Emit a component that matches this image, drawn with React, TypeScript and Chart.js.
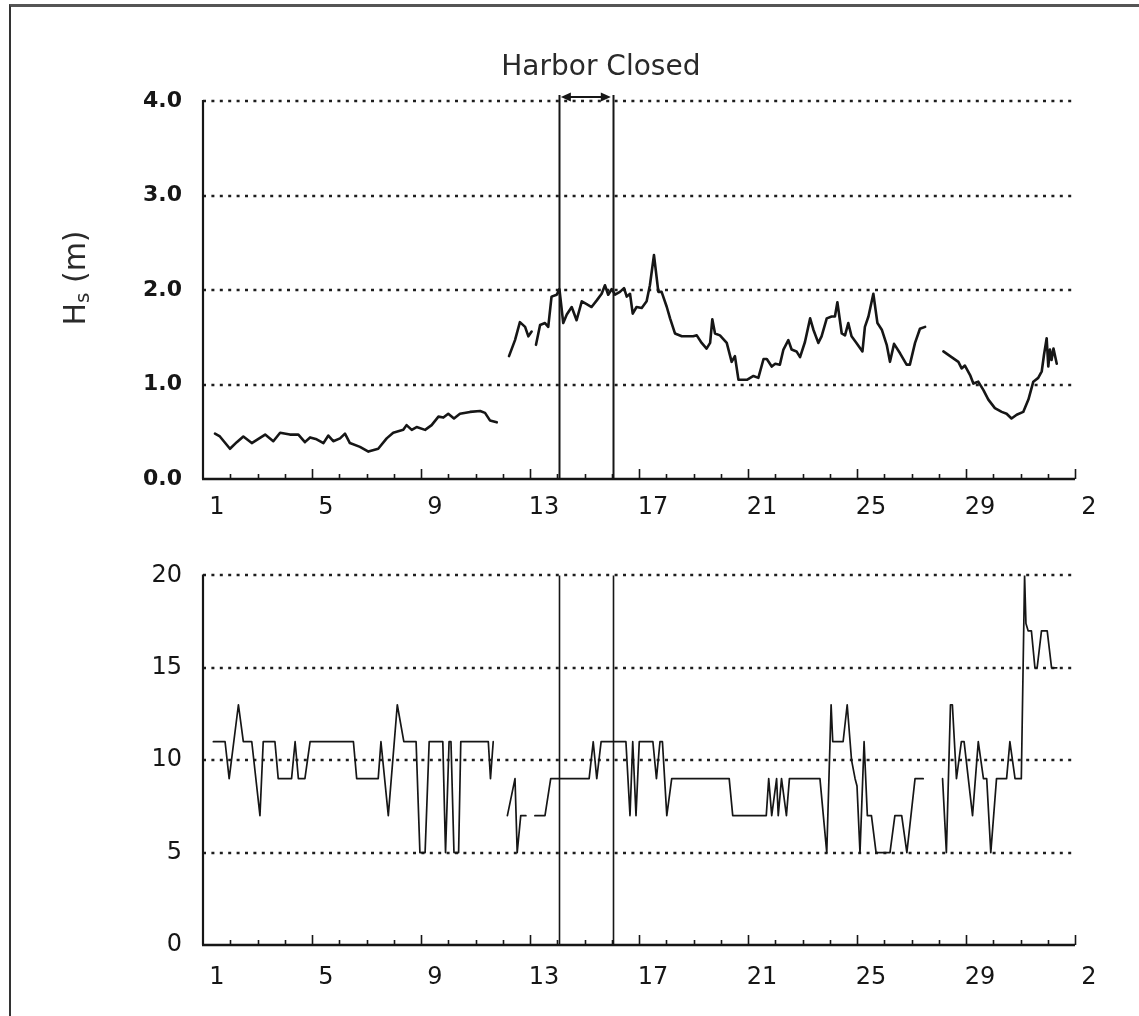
import { useEffect, useRef } from 'react';
import { Chart, registerables } from 'chart.js';

Chart.register(...registerables);

// x is "days since 00:00 of the 1st"; labels sit in the middle of each day
const xTickDays = [0, 4, 8, 12, 16, 20, 24, 28, 32];
const xTickLabels = ['1', '5', '9', '13', '17', '21', '25', '29', '2'];
const hsTicks = [0, 1, 2, 3, 4];
const tpTicks = [0, 5, 10, 15, 20];
const harborClosed = [13.06, 15.04];
const harborLabel = 'Harbor Closed';

const hsDays = [
  0.44, 0.62, 0.99, 1.24, 1.48, 1.79, 2.28, 2.58, 2.83, 3.19, 3.5, 3.74, 3.93, 4.17, 4.42, 4.6, 4.78, 5.03, 5.21, 5.39,
  5.76, 6.07, 6.43, 6.74, 6.98, 7.35, 7.47, 7.66, 7.84, 8.15, 8.39, 8.64, 8.82, 9.0, 9.21, 9.43, 9.8, 10.17, 10.35, 10.53, 10.78,
  11.0,
  11.23, 11.45, 11.63, 11.82, 11.94, 12.06,
  12.14,
  12.22, 12.37, 12.55, 12.67, 12.79, 12.98, 13.08, 13.22, 13.35, 13.53, 13.71, 13.9, 14.08, 14.26, 14.45, 14.63, 14.75, 14.87,
  15.0, 15.12, 15.3, 15.45, 15.55, 15.67, 15.77, 15.91, 16.1, 16.28, 16.4, 16.55, 16.71, 16.83, 17.02, 17.14, 17.32, 17.57,
  17.99, 18.12, 18.3, 18.48, 18.61, 18.69, 18.79, 18.97, 19.22, 19.4, 19.52, 19.65, 19.96, 20.2, 20.38, 20.57, 20.69, 20.87,
  21.0, 21.17, 21.3, 21.48, 21.6, 21.78, 21.91, 22.09, 22.28, 22.4, 22.58, 22.7, 22.89, 23.07, 23.19, 23.28, 23.44, 23.56,
  23.68, 23.8, 23.98, 24.2, 24.29, 24.42, 24.6, 24.75, 24.91, 25.09, 25.21, 25.36, 25.58, 25.82, 25.94, 26.13, 26.31, 26.5,
  26.8,
  27.17, 27.47, 27.72, 27.84, 27.96, 28.15, 28.27, 28.45, 28.64, 28.82, 29.06, 29.31, 29.49, 29.67, 29.86, 30.1, 30.29, 30.47,
  30.65, 30.78, 30.86, 30.96, 31.02, 31.08, 31.14, 31.21, 31.33,
];
const hsValues = [
  0.48, 0.45, 0.32, 0.39, 0.45, 0.38, 0.47, 0.4, 0.49, 0.47, 0.47, 0.39, 0.44, 0.42, 0.38, 0.46, 0.4, 0.43, 0.48, 0.38,
  0.34, 0.29, 0.32, 0.43, 0.49, 0.52, 0.57, 0.52, 0.55, 0.52, 0.57, 0.66, 0.65, 0.69, 0.64, 0.69, 0.71, 0.72, 0.7, 0.62, 0.6,
  null,
  1.3, 1.47, 1.66, 1.61, 1.51, 1.56,
  null,
  1.42, 1.63, 1.65, 1.61, 1.93, 1.95, 2.01, 1.65, 1.74, 1.82, 1.68, 1.88, 1.85, 1.82, 1.89, 1.96, 2.05, 1.95,
  2.01, 1.95, 1.98, 2.02, 1.93, 1.96, 1.75, 1.82, 1.81, 1.88, 2.05, 2.37, 1.98, 1.98, 1.82, 1.7, 1.54, 1.51,
  1.51, 1.52, 1.44, 1.38, 1.44, 1.69, 1.54, 1.52, 1.44, 1.24, 1.3, 1.05, 1.05, 1.09, 1.07, 1.27, 1.27, 1.19,
  1.22, 1.21, 1.37, 1.47, 1.37, 1.35, 1.29, 1.45, 1.7, 1.58, 1.44, 1.51, 1.7, 1.72, 1.72, 1.87, 1.54, 1.52,
  1.65, 1.51, 1.44, 1.35, 1.61, 1.72, 1.96, 1.65, 1.58, 1.42, 1.24, 1.43, 1.33, 1.21, 1.21, 1.44, 1.59, 1.61,
  null,
  1.35, 1.29, 1.24, 1.17, 1.2, 1.1, 1.01, 1.03, 0.94, 0.84, 0.75, 0.71, 0.69, 0.64, 0.68, 0.71, 0.84, 1.03,
  1.07, 1.14, 1.31, 1.49, 1.19, 1.37, 1.26, 1.38, 1.22,
];

const tpDays = [
  0.38, 0.81, 0.96, 1.3, 1.48, 1.79, 2.09, 2.21, 2.64, 2.76, 3.25, 3.38, 3.5, 3.74, 3.93, 5.52, 5.64, 6.43, 6.53, 6.8,
  7.13, 7.37, 7.82, 7.96, 8.15, 8.3, 8.8, 8.9, 9.03, 9.1, 9.21, 9.38, 9.46, 10.47, 10.55, 10.65,
  10.9,
  11.17, 11.45, 11.53, 11.66, 11.85,
  12.0,
  12.18, 12.55, 12.76, 14.17, 14.32, 14.45, 14.61, 15.52, 15.67, 15.77, 15.89, 16.01, 16.51, 16.64, 16.77, 16.86, 17.02,
  17.2, 19.31, 19.44, 20.67, 20.76, 20.87, 21.05, 21.11, 21.23, 21.41, 21.52, 22.64, 22.89, 23.05, 23.11, 23.49, 23.64,
  23.8, 23.93, 24.0, 24.11, 24.26, 24.38, 24.53, 24.7, 25.21, 25.39, 25.64, 25.83, 26.13, 26.43,
  26.8,
  27.14, 27.28, 27.43, 27.5, 27.65, 27.83, 27.93, 28.24, 28.45, 28.64, 28.76, 28.91, 29.12, 29.49, 29.61, 29.8, 30.03,
  30.15, 30.2, 30.28, 30.4, 30.53, 30.61, 30.77, 30.98, 31.14, 31.33,
];
const tpValues = [
  11, 11, 9, 13, 11, 11, 7, 11, 11, 9, 9, 11, 9, 9, 11, 11, 9, 9, 11, 7,
  13, 11, 11, 5, 5, 11, 11, 5, 11, 11, 5, 5, 11, 11, 9, 11,
  null,
  7, 9, 5, 7, 7,
  null,
  7, 7, 9, 9, 11, 9, 11, 11, 7, 11, 7, 11, 11, 9, 11, 11, 7,
  9, 9, 7, 7, 9, 7, 9, 7, 9, 7, 9, 9, 5, 13, 11, 11, 13,
  10, 9, 8.6, 5, 11, 7, 7, 5, 5, 7, 7, 5, 9, 9,
  null,
  9, 5, 13, 13, 9, 11, 11, 7, 11, 9, 9, 5, 9, 9, 11, 9, 9,
  20, 17.4, 17, 17, 15, 15, 17, 17, 15, 15,
];

const FONT = '"DejaVu Sans", "Liberation Sans", sans-serif';
const INK = '#161616';

type PanelOpts = {
  id: string;
  gridValues: number[];
  lineTopExtra: number;
  title: [string, string, string];
  titleCenterY: number;
  header: boolean;
};

function panelPlugin(o: PanelOpts) {
  return {
    id: o.id,
    beforeDatasetsDraw(chart: any) {
      const { ctx, chartArea: a, scales } = chart;
      const x = scales.x;
      const y = scales.y;
      ctx.save();
      // dotted grid lines
      ctx.strokeStyle = '#1e1e1e';
      ctx.lineWidth = 2.4;
      ctx.setLineDash([3, 5.4]);
      for (const v of o.gridValues) {
        if (v === o.gridValues[0]) continue;
        const py = Math.round(y.getPixelForValue(v));
        ctx.beginPath();
        ctx.moveTo(a.left, py);
        ctx.lineTo(a.right - 3, py);
        ctx.stroke();
      }
      ctx.setLineDash([]);
      // harbor closed lines
      ctx.strokeStyle = INK;
      ctx.lineWidth = o.header ? 2 : 1.6;
      for (const d of harborClosed) {
        const px = Math.round(x.getPixelForValue(d)) + 0.5;
        ctx.beginPath();
        ctx.moveTo(px, a.top - o.lineTopExtra);
        ctx.lineTo(px, a.bottom);
        ctx.stroke();
      }
      if (o.header) {
        const x1 = x.getPixelForValue(harborClosed[0]) + 2;
        const x2 = x.getPixelForValue(harborClosed[1]) - 2;
        const ay = a.top - 4;
        ctx.lineWidth = 1.8;
        ctx.beginPath();
        ctx.moveTo(x1 + 4, ay);
        ctx.lineTo(x2 - 4, ay);
        ctx.stroke();
        ctx.fillStyle = INK;
        ctx.beginPath();
        ctx.moveTo(x1, ay);
        ctx.lineTo(x1 + 10, ay - 4.5);
        ctx.lineTo(x1 + 10, ay + 4.5);
        ctx.closePath();
        ctx.fill();
        ctx.beginPath();
        ctx.moveTo(x2, ay);
        ctx.lineTo(x2 - 10, ay - 4.5);
        ctx.lineTo(x2 - 10, ay + 4.5);
        ctx.closePath();
        ctx.fill();
        ctx.font = `28px ${FONT}`;
        ctx.fillStyle = '#2a2a2a';
        ctx.textAlign = 'center';
        ctx.textBaseline = 'alphabetic';
        ctx.fillText(harborLabel, (x1 + x2) / 2 + 15, a.top - 26);
      }
      ctx.restore();
    },
    afterDraw(chart: any) {
      const { ctx, chartArea: a, scales } = chart;
      const x = scales.x;
      ctx.save();
      ctx.strokeStyle = INK;
      // axes
      ctx.lineWidth = 2.2;
      ctx.beginPath();
      ctx.moveTo(a.left, a.top - 1);
      ctx.lineTo(a.left, a.bottom);
      ctx.stroke();
      ctx.lineWidth = 2.6;
      ctx.beginPath();
      ctx.moveTo(a.left - 1, a.bottom);
      ctx.lineTo(a.right, a.bottom);
      ctx.stroke();
      // inward tick marks, one per day
      ctx.lineWidth = 1.6;
      for (let d = 1; d <= 32; d++) {
        const px = Math.round(x.getPixelForValue(d)) + 0.5;
        const len = d % 4 === 0 ? 10 : 5;
        ctx.beginPath();
        ctx.moveTo(px, a.bottom);
        ctx.lineTo(px, a.bottom - len);
        ctx.stroke();
      }
      // rotated axis title with subscript
      const [main, sub, rest] = o.title;
      const big = `30px ${FONT}`;
      const small = `20px ${FONT}`;
      ctx.font = big;
      const w1 = ctx.measureText(main).width;
      const w3 = ctx.measureText(rest).width;
      ctx.font = small;
      const w2 = ctx.measureText(sub).width;
      const total = w1 + w2 + w3;
      ctx.translate(77, o.titleCenterY);
      ctx.rotate(-Math.PI / 2);
      ctx.fillStyle = '#2a2a2a';
      ctx.textAlign = 'left';
      ctx.textBaseline = 'middle';
      let cx = -total / 2;
      ctx.font = big;
      ctx.fillText(main, cx, 0);
      cx += w1;
      ctx.font = small;
      ctx.fillText(sub, cx, 7);
      cx += w2;
      ctx.font = big;
      ctx.fillText(rest, cx, 0);
      ctx.restore();
    },
  };
}

function buildPoints(days: number[], values: (number | null)[]) {
  return days.map((d, i) => ({ x: d, y: values[i] }));
}

function makeConfig(kind: 'hs' | 'tp'): any {
  const isHs = kind === 'hs';
  const yTicks = isHs ? hsTicks : tpTicks;
  return {
    type: 'line',
    data: {
      datasets: [
        {
          data: isHs ? buildPoints(hsDays, hsValues) : buildPoints(tpDays, tpValues),
          borderColor: INK,
          borderWidth: isHs ? 2.6 : 1.7,
          pointRadius: 0,
          tension: 0,
          spanGaps: false,
          borderJoinStyle: 'round',
          borderCapStyle: 'round',
        },
      ],
    },
    options: {
      animation: false,
      responsive: false,
      devicePixelRatio: 1,
      layout: { padding: { top: isHs ? 101 : 30, right: 64, left: 0, bottom: 0 } },
      plugins: { legend: { display: false }, tooltip: { enabled: false } },
      scales: {
        x: {
          type: 'linear',
          min: 0,
          max: 32,
          afterBuildTicks: (s: any) => {
            s.ticks = xTickDays.map((v) => ({ value: v }));
          },
          afterFit: (s: any) => {
            s.height = isHs ? 61 : 71;
          },
          grid: { display: false, drawTicks: false },
          border: { display: false },
          ticks: {
            autoSkip: false,
            maxRotation: 0,
            labelOffset: 14,
            padding: isHs ? 14 : 18,
            color: INK,
            font: { family: FONT, size: 24 },
            callback: (v: number) => {
              const i = xTickDays.indexOf(Number(v));
              return i >= 0 ? xTickLabels[i] : '';
            },
          },
        },
        y: {
          type: 'linear',
          min: yTicks[0],
          max: yTicks[yTicks.length - 1],
          afterBuildTicks: (s: any) => {
            s.ticks = yTicks.map((v) => ({ value: v }));
          },
          afterFit: (s: any) => {
            s.width = 203;
          },
          grid: { display: false, drawTicks: false },
          border: { display: false },
          ticks: {
            padding: 21,
            color: INK,
            font: isHs ? { family: FONT, size: 22, weight: 'bold' } : { family: FONT, size: 24 },
            callback: (v: number) => (isHs ? Number(v).toFixed(1) : String(v)),
          },
        },
      },
    },
    plugins: [
      panelPlugin(
        isHs
          ? { id: 'hsPanel', gridValues: hsTicks, lineTopExtra: 6, title: ['H', 's', ' (m)'], titleCenterY: 278, header: true }
          : { id: 'tpPanel', gridValues: tpTicks, lineTopExtra: 0, title: ['T', 'p', ' (sec)'], titleCenterY: 750, header: false }
      ),
    ],
  };
}

export default function App() {
  const topRef = useRef<HTMLCanvasElement | null>(null);
  const botRef = useRef<HTMLCanvasElement | null>(null);

  useEffect(() => {
    const c1 = new Chart(topRef.current as HTMLCanvasElement, makeConfig('hs'));
    const c2 = new Chart(botRef.current as HTMLCanvasElement, makeConfig('tp'));
    return () => {
      c1.destroy();
      c2.destroy();
    };
  }, []);

  return (
    <div style={{ position: 'absolute', left: 0, top: 0, width: 1139, height: 1016, background: '#fff', overflow: 'hidden' }}>
      <div
        style={{
          position: 'absolute',
          left: 9,
          top: 4,
          width: 1140,
          height: 1020,
          borderLeft: '2px solid #333',
          borderTop: '3px solid #555',
        }}
      />
      <canvas ref={topRef} width={1139} height={540} style={{ position: 'absolute', left: 0, top: 0, width: 1139, height: 540 }} />
      <canvas ref={botRef} width={1139} height={476} style={{ position: 'absolute', left: 0, top: 540, width: 1139, height: 476 }} />
    </div>
  );
}
